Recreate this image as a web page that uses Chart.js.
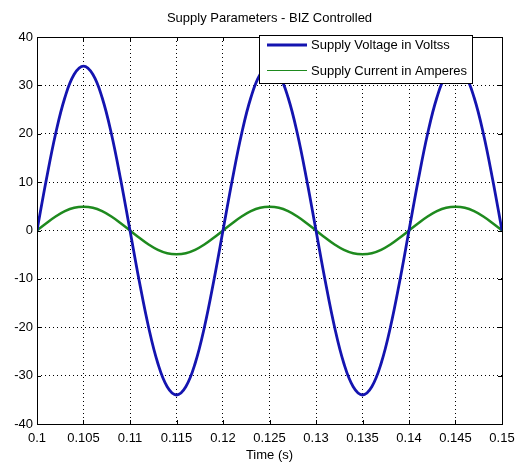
<!DOCTYPE html>
<html>
<head>
<meta charset="utf-8">
<script src="https://cdn.jsdelivr.net/npm/chart.js@4.4.1/dist/chart.umd.min.js"></script>
<style>
  html, body { margin: 0; padding: 0; background: #ffffff; }
  #wrap { width: 518px; height: 463px; }
</style>
</head>
<body>
<div id="wrap"><canvas id="c" width="518" height="463"></canvas></div>
<script>
// ---- data ----
const timeS = [
  0.100, 0.101, 0.102, 0.103, 0.104, 0.105, 0.106, 0.107, 0.108, 0.109,
  0.110, 0.111, 0.112, 0.113, 0.114, 0.115, 0.116, 0.117, 0.118, 0.119,
  0.120, 0.121, 0.122, 0.123, 0.124, 0.125, 0.126, 0.127, 0.128, 0.129,
  0.130, 0.131, 0.132, 0.133, 0.134, 0.135, 0.136, 0.137, 0.138, 0.139,
  0.140, 0.141, 0.142, 0.143, 0.144, 0.145, 0.146, 0.147, 0.148, 0.149,
  0.150
];
const supplyVoltage = [
  0, 10.5, 20.0, 27.5, 32.3, 34.0, 32.3, 27.5, 20.0, 10.5,
  0, -10.5, -20.0, -27.5, -32.3, -34.0, -32.3, -27.5, -20.0, -10.5,
  0, 10.5, 20.0, 27.5, 32.3, 34.0, 32.3, 27.5, 20.0, 10.5,
  0, -10.5, -20.0, -27.5, -32.3, -34.0, -32.3, -27.5, -20.0, -10.5,
  0, 10.5, 20.0, 27.5, 32.3, 34.0, 32.3, 27.5, 20.0, 10.5,
  0
];
const supplyCurrent = [
  0, 1.5, 2.9, 4.0, 4.7, 4.9, 4.7, 4.0, 2.9, 1.5,
  0, -1.5, -2.9, -4.0, -4.7, -4.9, -4.7, -4.0, -2.9, -1.5,
  0, 1.5, 2.9, 4.0, 4.7, 4.9, 4.7, 4.0, 2.9, 1.5,
  0, -1.5, -2.9, -4.0, -4.7, -4.9, -4.7, -4.0, -2.9, -1.5,
  0, 1.5, 2.9, 4.0, 4.7, 4.9, 4.7, 4.0, 2.9, 1.5,
  0
];
const seriesNames = ['Supply Voltage in Voltss', 'Supply Current in Amperes'];
const xTicks = [0.1, 0.105, 0.11, 0.115, 0.12, 0.125, 0.13, 0.135, 0.14, 0.145, 0.15];
const xTickLabels = ['0.1', '0.105', '0.11', '0.115', '0.12', '0.125', '0.13', '0.135', '0.14', '0.145', '0.15'];
const yTicks = [-40, -30, -20, -10, 0, 10, 20, 30, 40];
const yTickLabels = ['-40', '-30', '-20', '-10', '0', '10', '20', '30', '40'];
const chartTitle = 'Supply Parameters - BIZ Controlled';
const xAxisTitle = 'Time (s)';

// ---- styles ----
const FONT = "'Liberation Sans', Arial, sans-serif";
const voltColor = '#1414b0';
const currColor = '#1e8a1e';

const frameAndLegend = {
  id: 'frameAndLegend',
  afterDraw(chart) {
    const ctx = chart.ctx;
    const a = chart.chartArea;
    const xs = chart.scales.x, ys = chart.scales.y;
    ctx.save();
    // frame
    ctx.strokeStyle = '#000';
    ctx.lineWidth = 1;
    ctx.strokeRect(Math.round(a.left) + 0.5, Math.round(a.top) + 0.5,
                   Math.round(a.right - a.left), Math.round(a.bottom - a.top));
    // inward tick marks
    ctx.beginPath();
    xTicks.forEach(v => {
      const px = Math.round(xs.getPixelForValue(v)) + 0.5;
      ctx.moveTo(px, a.bottom); ctx.lineTo(px, a.bottom - 4);
      ctx.moveTo(px, a.top); ctx.lineTo(px, a.top + 4);
    });
    yTicks.forEach(v => {
      const py = Math.round(ys.getPixelForValue(v)) + 0.5;
      ctx.moveTo(a.left, py); ctx.lineTo(a.left + 4, py);
      ctx.moveTo(a.right, py); ctx.lineTo(a.right - 4, py);
    });
    ctx.stroke();
    // legend box (drawn over the curves)
    const lx = 259, ly = 35, lw = 213, lh = 48;
    ctx.fillStyle = '#fff';
    ctx.fillRect(lx, ly, lw, lh);
    ctx.strokeStyle = '#000';
    ctx.strokeRect(lx + 0.5, ly + 0.5, lw, lh);
    const rows = [45, 70.5];
    chart.data.datasets.forEach((ds, i) => {
      ctx.strokeStyle = ds.borderColor;
      ctx.lineWidth = i === 0 ? 3 : 1;
      ctx.beginPath();
      ctx.moveTo(267, rows[i]);
      ctx.lineTo(307, rows[i]);
      ctx.stroke();
      ctx.fillStyle = '#000';
      ctx.font = '13px ' + FONT;
      ctx.textBaseline = 'middle';
      ctx.textAlign = 'left';
      ctx.fillText(ds.label, 311, rows[i] + 0.5);
    });
    ctx.restore();
  }
};

new Chart(document.getElementById('c'), {
  type: 'line',
  data: {
    datasets: [
      {
        label: seriesNames[0],
        data: timeS.map((t, i) => ({ x: t, y: supplyVoltage[i] })),
        borderColor: voltColor,
        borderWidth: 2.8,
        pointRadius: 0,
        tension: 0.4,
        fill: false
      },
      {
        label: seriesNames[1],
        data: timeS.map((t, i) => ({ x: t, y: supplyCurrent[i] })),
        borderColor: currColor,
        borderWidth: 2.5,
        pointRadius: 0,
        tension: 0.4,
        fill: false
      }
    ]
  },
  options: {
    responsive: false,
    animation: false,
    events: [],
    layout: { padding: { left: 0, right: 16, top: 0, bottom: 0 } },
    plugins: {
      legend: { display: false },
      tooltip: { enabled: false },
      title: {
        display: true,
        text: chartTitle,
        fullSize: false,
        color: '#000',
        font: { family: FONT, size: 13, weight: 'normal', lineHeight: 1.2 },
        padding: { top: 11, bottom: 10.4 }
      }
    },
    scales: {
      x: {
        type: 'linear',
        min: 0.1,
        max: 0.15,
        afterBuildTicks: s => { s.ticks = xTicks.map(v => ({ value: v })); },
        afterFit: s => { s.height = 39; s.paddingLeft = 0; s.paddingRight = 0; },
        border: { display: false, dash: [1, 3] },
        grid: { color: '#000', lineWidth: 1, drawTicks: false },
        ticks: {
          padding: 7,
          color: '#000',
          maxRotation: 0,
          autoSkip: false,
          font: { family: FONT, size: 13 },
          callback: (v, i) => xTickLabels[i]
        },
        title: {
          display: true,
          text: xAxisTitle,
          color: '#000',
          font: { family: FONT, size: 13, lineHeight: 1.2 },
          padding: { top: 0, bottom: 0 }
        }
      },
      y: {
        type: 'linear',
        min: -40,
        max: 40,
        afterBuildTicks: s => { s.ticks = yTicks.map(v => ({ value: v })); },
        afterFit: s => { s.width = 37; s.paddingTop = 0; s.paddingBottom = 0; },
        border: { display: false, dash: [1, 3] },
        grid: { color: '#000', lineWidth: 1, drawTicks: false },
        ticks: {
          padding: 4,
          color: '#000',
          autoSkip: false,
          font: { family: FONT, size: 13 },
          callback: (v, i) => yTickLabels[i]
        }
      }
    }
  },
  plugins: [frameAndLegend]
});
</script>
</body>
</html>
